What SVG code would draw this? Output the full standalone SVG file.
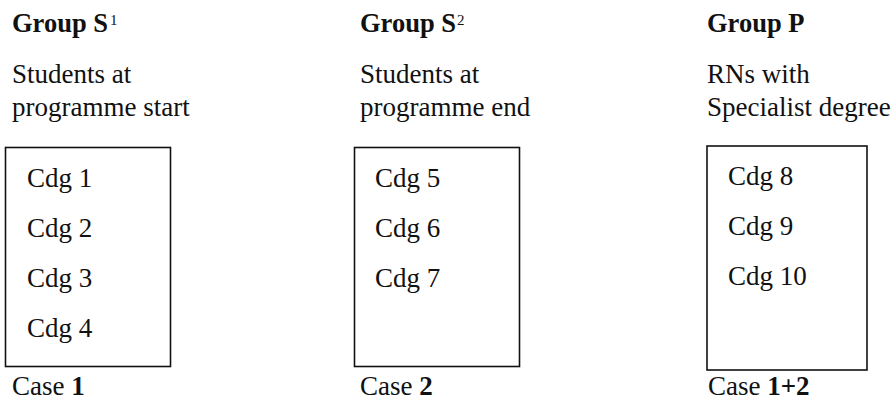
<svg xmlns="http://www.w3.org/2000/svg" width="895" height="409" viewBox="0 0 895 409">
<style>
text{font-size:27px;fill:#111}
.b{font-weight:bold}
.h{font-size:26.5px}
.sup{font-size:15px;font-weight:normal}
.box{fill:#fff;stroke:#111;stroke-width:1.6}
</style>
<rect width="895" height="409" fill="#fff"/>
<g font-family="'Liberation Serif', 'Times New Roman', 'DejaVu Serif', serif">
<g id="groupS1">
<text class="b h" x="12" y="32">Group S<tspan class="sup" dx="2" dy="-7">1</tspan></text>
<text x="12" y="83">Students at</text>
<text x="12" y="116">programme start</text>
<rect class="box" x="5.5" y="147.5" width="165" height="219"/>
<text x="27" y="187">Cdg 1</text>
<text x="27" y="237">Cdg 2</text>
<text x="27" y="287">Cdg 3</text>
<text x="27" y="337">Cdg 4</text>
<text x="12" y="395">Case <tspan class="b">1</tspan></text>
</g>
<g id="groupS2">
<text class="b h" x="360" y="32">Group S<tspan class="sup" dx="1" dy="-7">2</tspan></text>
<text x="360" y="83">Students at</text>
<text x="360" y="116">programme end</text>
<rect class="box" x="354.5" y="147.5" width="165" height="219"/>
<text x="375" y="187">Cdg 5</text>
<text x="375" y="237">Cdg 6</text>
<text x="375" y="287">Cdg 7</text>
<text x="360" y="395">Case <tspan class="b">2</tspan></text>
</g>
<g id="groupP">
<text class="b h" x="707" y="32">Group P</text>
<text x="707" y="83">RNs with</text>
<text x="707" y="116">Specialist degree</text>
<rect class="box" x="707" y="146" width="160" height="224"/>
<text x="728" y="185">Cdg 8</text>
<text x="728" y="235">Cdg 9</text>
<text x="728" y="285">Cdg 10</text>
<text x="708" y="395">Case <tspan class="b">1+2</tspan></text>
</g>
</g>
<g id="connectors"/>
</svg>
